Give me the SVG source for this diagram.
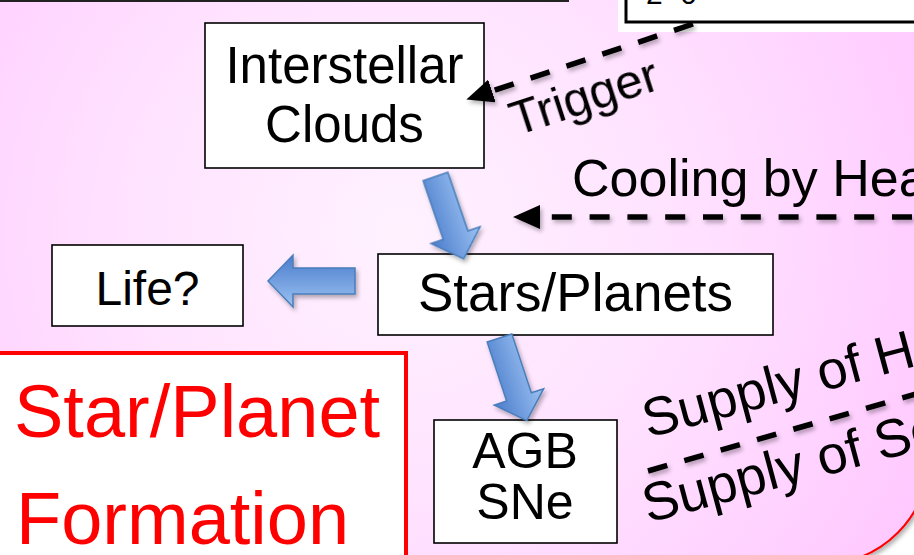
<svg xmlns="http://www.w3.org/2000/svg" xmlns:xlink="http://www.w3.org/1999/xlink" width="914" height="555" viewBox="0 0 914 555">
  <style>
    .box { fill: #ffffff; stroke: #000000; stroke-width: 1.6; }
    .lbl { font-family: 'Liberation Sans', Arial, Helvetica, sans-serif; fill: #000000; }
    .node { text-anchor: middle; }
    .dash { fill: none; stroke: #000000; stroke-width: 5.5; stroke-dasharray: 20 17.8; }
    .blk { fill: url(#blueFill); stroke: #4a7ebb; stroke-width: 1.5; }
    .title { font-family: 'Liberation Sans', Arial, Helvetica, sans-serif; font-size: 74px; fill: #ff0000; }
  </style>
  <defs>
    <radialGradient id="bg" cx="400" cy="230" r="620" gradientUnits="userSpaceOnUse">
      <stop offset="0" stop-color="#fff2ff"/>
      <stop offset="0.45" stop-color="#ffe2ff"/>
      <stop offset="1" stop-color="#ffc6ff"/>
    </radialGradient>
    <linearGradient id="blueFill" x1="0" y1="1" x2="0" y2="0">
      <stop offset="0" stop-color="#4a7ccc"/>
      <stop offset="1" stop-color="#9cc2f2"/>
    </linearGradient>
    <filter id="soft" x="-20%" y="-20%" width="140%" height="140%">
      <feDropShadow dx="2" dy="3" stdDeviation="2" flood-color="#000000" flood-opacity="0.3"/>
    </filter>
    <marker id="head" markerUnits="userSpaceOnUse" markerWidth="28" markerHeight="24" refX="0" refY="12" orient="auto">
      <path d="M0,0 L27,12 L0,24 Z" fill="#000000"/>
    </marker>
    <!-- block arrow pointing along +x, tail at origin -->
    <path id="blockArrow" d="M0,-13 L62,-13 L62,-26 L87,0 L62,26 L62,13 L0,13 Z"/>
  </defs>

  <!-- page and pink panel with rounded lower-right corner -->
  <rect x="0" y="0" width="914" height="555" fill="#ffffff"/>
  <path d="M-10,-10 L930,-10 L930,455 A110,110 0 0 1 820,565 L-10,565 Z" fill="url(#bg)" stroke="#ff0000" stroke-width="2" filter="url(#soft)"/>

  <!-- neighbouring boxes at the top edge -->
  <rect x="-5" y="-60" width="573" height="61" fill="#ffffff" stroke="#222222" stroke-width="2"/>
  <rect x="618" y="-5" width="300" height="37" fill="#ffffff"/>
  <rect x="626" y="-60" width="300" height="82" fill="#ffffff" stroke="#000000" stroke-width="3"/>
  <text class="lbl" x="646" y="4" style="font-size:30px">2~0</text>

  <!-- nodes -->
  <g id="interstellar-clouds">
    <rect class="box" x="205" y="23" width="279" height="145"/>
    <text class="lbl node" x="344.5" y="83" style="font-size:51px">Interstellar</text>
    <text class="lbl node" x="344.5" y="142" style="font-size:51px">Clouds</text>
  </g>
  <g id="stars-planets">
    <rect class="box" x="378" y="254" width="395" height="81"/>
    <text class="lbl node" x="575.5" y="311" style="font-size:53px">Stars/Planets</text>
  </g>
  <g id="life">
    <rect class="box" x="52" y="245" width="191" height="81"/>
    <text class="lbl node" x="147.5" y="305" style="font-size:48px">Life?</text>
  </g>
  <g id="agb-sne">
    <rect class="box" x="434" y="420" width="183" height="123"/>
    <text class="lbl node" x="525" y="468" style="font-size:50px">AGB</text>
    <text class="lbl node" x="525" y="519" style="font-size:50px">SNe</text>
  </g>
  <g id="star-planet-formation">
    <rect x="-5" y="353" width="411" height="230" fill="#ffffff" stroke="#ff0000" stroke-width="4"/>
    <text class="title" x="14" y="437">Star/Planet</text>
    <text class="title" x="16" y="544">Formation</text>
  </g>

  <!-- connectors -->
  <g id="connectors">
    <g filter="url(#soft)">
      <line class="dash" x1="693" y1="24" x2="492" y2="91" marker-end="url(#head)"/>
      <line class="dash" x1="912" y1="217" x2="540" y2="217" marker-end="url(#head)"/>
      <line class="dash" x1="648" y1="471" x2="930" y2="390"/>
      <use xlink:href="#blockArrow" class="blk" transform="translate(435.5,176.5) rotate(71.1)"/>
      <use xlink:href="#blockArrow" class="blk" transform="translate(355,281) rotate(180)"/>
      <use xlink:href="#blockArrow" class="blk" transform="translate(499.5,338) rotate(71.7)"/>
    </g>
    <text class="lbl" transform="translate(516,136) rotate(-18)" style="font-size:49px">Trigger</text>
    <text class="lbl" x="572" y="196" style="font-size:52px">Cooling by Hea</text>
    <text class="lbl" transform="translate(648,438) rotate(-15)" style="font-size:54px">Supply of H</text>
    <text class="lbl" transform="translate(648,523) rotate(-15)" style="font-size:54px">Supply of Se</text>
  </g>
</svg>
